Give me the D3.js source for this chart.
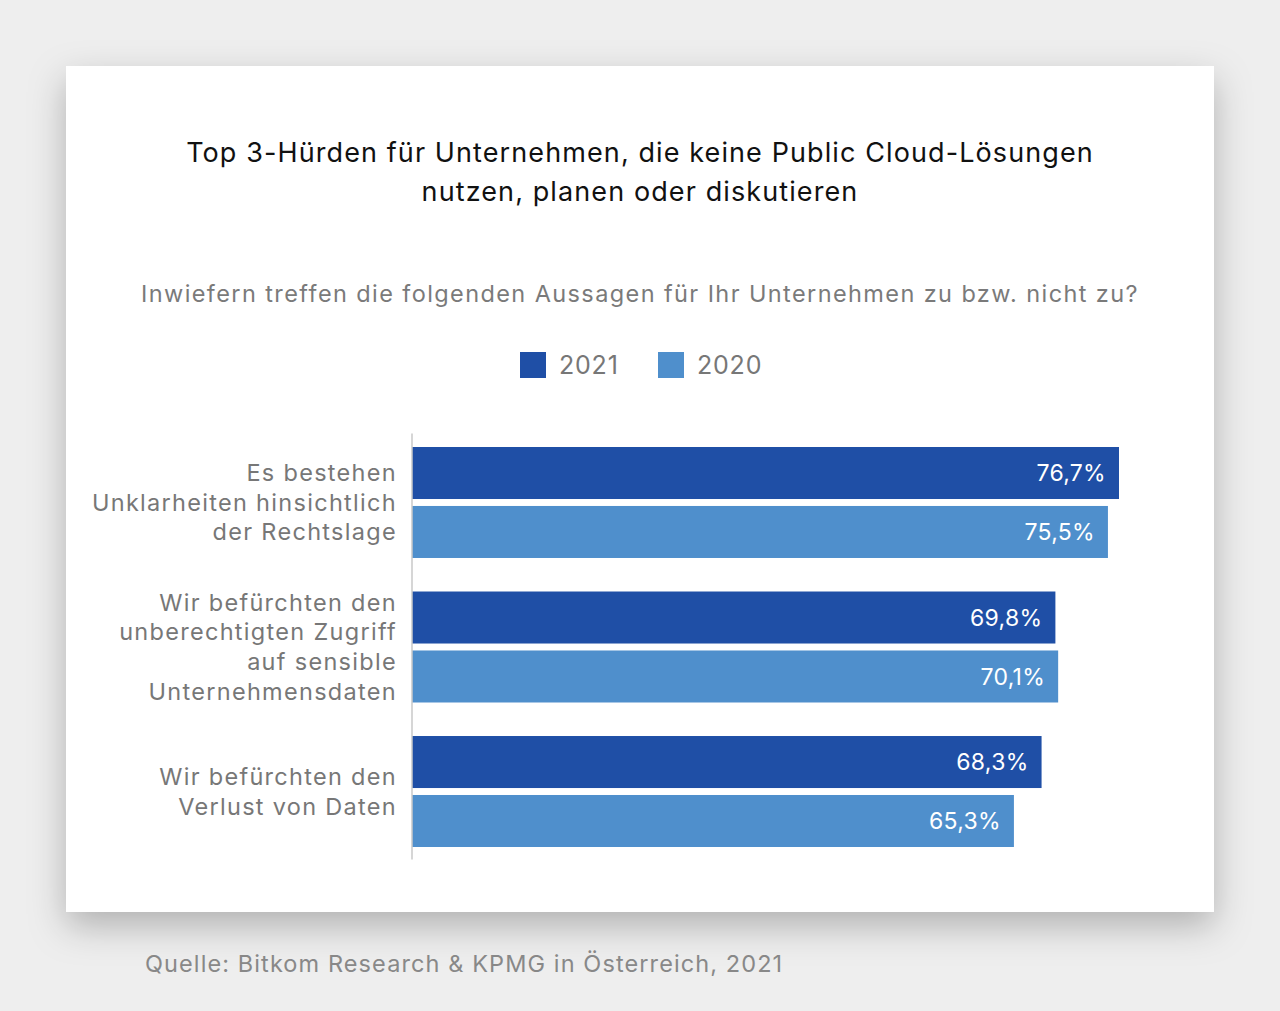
<!DOCTYPE html>
<html>
<head>
<meta charset="utf-8">
<script src="https://cdn.jsdelivr.net/npm/d3@7"></script>
<style>
  body { margin: 0; background: #eeeeee; }
  svg { display: block; font-family: Inter, "Noto Sans", sans-serif; }
</style>
</head>
<body>
<div class="chart"></div>
<script>
const categories = [
  ["Es bestehen", "Unklarheiten hinsichtlich", "der Rechtslage"],
  ["Wir befürchten den", "unberechtigten Zugriff", "auf sensible", "Unternehmensdaten"],
  ["Wir befürchten den", "Verlust von Daten"]
];
const series = ["2021", "2020"];
const values2021 = [76.7, 69.8, 68.3];
const values2020 = [75.5, 70.1, 65.3];
const colors = ["#1f4fa6", "#4f8fcc"];

const W = 1280, H = 1011;
const svg = d3.select(".chart").append("svg")
  .attr("width", W).attr("height", H);

const defs = svg.append("defs");
const f = defs.append("filter").attr("id", "shadow")
  .attr("x", "-10%").attr("y", "-10%").attr("width", "120%").attr("height", "130%");
f.append("feDropShadow").attr("dx", 0).attr("dy", 14).attr("stdDeviation", 18)
  .attr("flood-color", "#000").attr("flood-opacity", 0.26);

// card
svg.append("rect")
  .attr("x", 66).attr("y", 66).attr("width", 1148).attr("height", 846)
  .attr("fill", "#fff").attr("filter", "url(#shadow)");

// title
svg.append("text").attr("x", 640).attr("text-anchor", "middle")
  .attr("font-size", 27).attr("fill", "#111").attr("letter-spacing", 1.1)
  .selectAll("tspan")
  .data(["Top 3-Hürden für Unternehmen, die keine Public Cloud-Lösungen", "nutzen, planen oder diskutieren"])
  .join("tspan").attr("x", 640).attr("y", (d, i) => 162 + i * 39).text(d => d);

svg.append("text").attr("x", 640).attr("y", 302).attr("text-anchor", "middle")
  .attr("font-size", 23.5).attr("fill", "#7a7a7a").attr("letter-spacing", 1.4)
  .text("Inwiefern treffen die folgenden Aussagen für Ihr Unternehmen zu bzw. nicht zu?");

// legend
const legend = svg.append("g").selectAll("g").data(series).join("g")
  .attr("transform", (d, i) => `translate(${520 + i * 138},352)`);
legend.append("rect").attr("width", 26).attr("height", 26).attr("fill", (d, i) => colors[i]);
legend.append("text").attr("x", 39).attr("y", 22).attr("font-size", 25)
  .attr("fill", "#777").attr("letter-spacing", 0.8).text(d => d);

// bars
const data = categories.map((c, i) => ({ label: c, vals: [values2021[i], values2020[i]] }));

const x = d3.scaleLinear().domain([0, 76.7]).range([412, 1119]);
const y0 = d3.scaleBand().domain(d3.range(categories.length)).range([447, 847]).paddingInner(0.232).paddingOuter(0);
const y1 = d3.scaleBand().domain(d3.range(series.length)).range([0, y0.bandwidth()]).paddingInner(0.118);

const groups = svg.append("g").selectAll("g").data(data).join("g")
  .attr("transform", (d, i) => `translate(0,${y0(i)})`);

groups.selectAll("rect").data(d => d.vals).join("rect")
  .attr("x", x(0)).attr("y", (d, i) => y1(i))
  .attr("width", d => x(d) - x(0)).attr("height", y1.bandwidth())
  .attr("fill", (d, i) => colors[i]);

const fmt = v => d3.format(".1f")(v).replace(".", ",") + "%";
groups.selectAll("text.val").data(d => d.vals).join("text").attr("class", "val")
  .attr("x", d => x(d) - 13).attr("y", (d, i) => y1(i) + y1.bandwidth() / 2)
  .attr("dy", "0.35em").attr("text-anchor", "end")
  .attr("font-size", 23).attr("fill", "#fff").attr("letter-spacing", 0.3).text(fmt);

groups.append("text").attr("text-anchor", "end").attr("font-size", 23.5).attr("fill", "#777")
  .attr("letter-spacing", 1.3)
  .each(function (d) {
    const n = d.label.length;
    const mid = y0.bandwidth() / 2;
    d3.select(this).selectAll("tspan").data(d.label).join("tspan")
      .attr("x", 397).attr("y", (t, j) => mid + (j - (n - 1) / 2) * 29.7)
      .attr("dy", "0.35em").text(t => t);
  });

// axis line
svg.append("g").attr("transform", `translate(${x(0) - 0.5},0)`)
  .call(d3.axisLeft(d3.scaleLinear().range([433, 859])).ticks(0).tickSize(0))
  .call(g => g.select(".domain").attr("stroke", "#c8c8c8").attr("stroke-width", 1.5));

// source
svg.append("text").attr("x", 145).attr("y", 972).attr("font-size", 23.5).attr("fill", "#888")
  .attr("letter-spacing", 1.1)
  .text("Quelle: Bitkom Research & KPMG in Österreich, 2021");
</script>
</body>
</html>
